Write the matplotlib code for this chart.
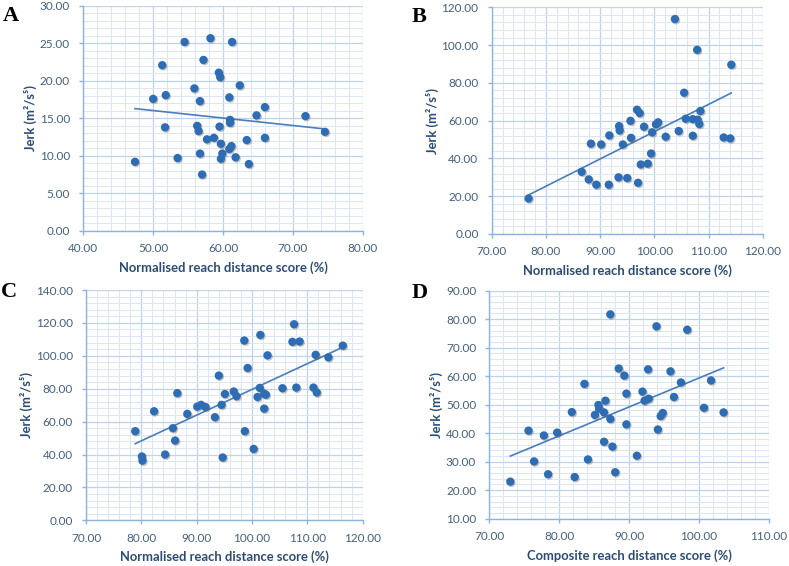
import numpy as np
import matplotlib
matplotlib.use("Agg")
import matplotlib.pyplot as plt
import matplotlib.patheffects as pe
from matplotlib.ticker import MultipleLocator, FormatStrFormatter

# Panel A: normalised reach distance vs jerk
xa = [47.4, 50.0, 51.3, 51.8, 51.7, 53.5, 54.5, 55.9, 56.3, 56.5, 56.7, 56.7, 57.0,
      57.2, 57.7, 58.2, 58.7, 59.4, 59.6, 59.5, 59.7, 59.9, 59.7, 60.9, 61.0, 61.0,
      61.3, 60.9, 61.2, 61.8, 62.4, 63.4, 63.7, 64.8, 66.0, 66.0, 71.8, 74.6]
ya = [9.2, 17.6, 22.1, 18.1, 13.8, 9.7, 25.2, 19.0, 14.0, 13.3, 17.3, 10.3, 7.5,
      22.8, 12.2, 25.7, 12.4, 21.1, 20.5, 13.9, 11.6, 10.3, 9.6, 17.8, 14.8, 14.4,
      25.2, 10.9, 11.3, 9.8, 19.4, 12.1, 8.9, 15.4, 16.5, 12.4, 15.3, 13.2]

# Panel B
xb = [76.8, 86.6, 87.9, 88.3, 89.3, 90.2, 91.6, 91.7, 93.4, 93.5, 93.6, 94.2, 95.0,
      95.7, 95.6, 96.8, 97.3, 97.0, 97.5, 98.1, 98.8, 99.4, 99.6, 100.3, 100.7, 102.1,
      103.8, 104.5, 105.5, 105.8, 107.1, 107.1, 107.9, 108.0, 108.5, 108.3, 112.8,
      114.0, 114.2]
yb = [18.8, 32.9, 28.9, 47.8, 26.1, 47.4, 26.1, 52.2, 30.0, 57.1, 54.8, 47.4, 29.6,
      50.9, 59.9, 65.8, 64.0, 27.1, 36.8, 56.8, 37.2, 42.6, 53.8, 58.0, 59.1, 51.5,
      113.8, 54.5, 74.8, 61.0, 60.8, 52.0, 97.5, 60.5, 65.1, 58.2, 51.1, 50.6, 89.6]

# Panel C
xc = [78.9, 80.1, 80.2, 82.3, 84.3, 85.7, 86.1, 86.5, 88.3, 90.1, 90.8, 91.6, 93.3,
      94.0, 94.5, 95.1, 94.7, 96.7, 97.2, 98.6, 98.7, 99.2, 100.3, 101.4, 101.0, 101.5,
      102.2, 102.5, 102.2, 102.8, 105.5, 107.3, 107.6, 108.6, 108.0, 111.1, 111.7,
      111.5, 113.8, 116.4]
yc = [54.2, 38.8, 36.3, 66.3, 40.0, 56.0, 48.5, 77.3, 64.7, 69.1, 70.2, 68.9, 62.7,
      88.0, 70.2, 76.8, 38.2, 78.3, 75.4, 109.3, 54.2, 92.6, 43.4, 80.5, 75.0, 112.7,
      77.0, 76.4, 67.9, 100.3, 80.3, 108.5, 119.2, 108.7, 80.7, 80.7, 77.7, 100.6,
      99.1, 106.2]

# Panel D: composite reach distance vs jerk
xd = [73.0, 75.6, 76.4, 77.8, 78.4, 79.7, 81.8, 82.2, 83.6, 84.1, 85.1, 85.6, 85.7,
      86.6, 86.4, 86.4, 87.3, 87.3, 87.6, 88.0, 88.5, 89.3, 89.6, 89.6, 91.1, 91.9,
      92.2, 92.8, 92.7, 93.9, 94.1, 94.5, 94.8, 95.9, 96.4, 97.4, 98.3, 100.7, 101.7,
      103.5]
yd = [23.0, 40.9, 30.1, 39.2, 25.6, 40.2, 47.4, 24.6, 57.3, 30.8, 46.4, 49.9, 48.6,
      51.4, 47.3, 37.0, 81.7, 45.0, 35.3, 26.3, 62.7, 60.2, 53.9, 43.1, 32.1, 54.6,
      51.4, 52.1, 62.4, 77.5, 41.3, 46.0, 47.1, 61.7, 52.7, 57.8, 76.3, 48.9, 58.5,
      47.3]

letters = ["A", "B", "C", "D"]
xlabels = ["Normalised reach distance score (%)"] * 3 + ["Composite reach distance score (%)"]
xlims = [(40, 80), (70, 120), (70, 120), (70, 110)]
ylims = [(0, 30), (0, 120), (0, 140), (10, 90)]
ymajor = [5, 20, 20, 10]
series = [(xa, ya), (xb, yb), (xc, yc), (xd, yd)]

boxes = [[0.1056, 0.5924, 0.3541, 0.3970],
         [0.6232, 0.5866, 0.3435, 0.4005],
         [0.1090, 0.0807, 0.3507, 0.4069],
         [0.6202, 0.0836, 0.3545, 0.4028]]
letter_pos = [(0.004, 0.963), (0.522, 0.961), (0.001, 0.475), (0.522, 0.473)]

tick_col = "#44607F"
label_col = "#2B4C74"
dot_col = "#2E6DB4"
line_col = "#4A7EBB"
axis_col = "#8DB3E2"

fig = plt.figure(figsize=(7.89, 5.66), dpi=100)

for i in range(4):
    ax = fig.add_axes(boxes[i])
    x, y = series[i]
    ax.set_xlim(*xlims[i])
    ax.set_ylim(*ylims[i])
    ax.xaxis.set_major_locator(MultipleLocator(10))
    ax.xaxis.set_minor_locator(MultipleLocator(2))
    ax.yaxis.set_major_locator(MultipleLocator(ymajor[i]))
    ax.yaxis.set_minor_locator(MultipleLocator(ymajor[i] / 5))
    ax.xaxis.set_major_formatter(FormatStrFormatter("%.2f"))
    ax.yaxis.set_major_formatter(FormatStrFormatter("%.2f"))
    ax.grid(which="major", color="#BED4EC", linewidth=0.9)
    ax.grid(which="minor", color="#DCE7F4", linewidth=0.7)
    ax.set_axisbelow(True)
    for s in ["top", "right"]:
        ax.spines[s].set_visible(False)
    for s in ["left", "bottom"]:
        ax.spines[s].set_color(axis_col)
        ax.spines[s].set_linewidth(1.0)
    ax.tick_params(which="minor", length=0)
    ax.tick_params(which="major", length=3, width=1.0, color=axis_col,
                   labelsize=8.5, labelcolor=tick_col)
    ax.tick_params(axis="x", pad=6)
    ax.tick_params(axis="y", pad=6.5)
    for t in ax.get_xticklabels() + ax.get_yticklabels():
        t.set_family(["Lato", "DejaVu Sans"])

    # linear trend line
    k, b = np.polyfit(x, y, 1)
    xs = np.array([min(x), max(x)])
    ax.plot(xs, k * xs + b, color=line_col, linewidth=1.2, zorder=2)

    sc = ax.scatter(x, y, s=36, color=dot_col, edgecolors="none", zorder=3)
    sc.set_path_effects([pe.SimplePatchShadow(offset=(0.8, -0.9), shadow_rgbFace="#555555",
                                              alpha=0.35),
                         pe.Normal()])

    ax.set_xlabel(xlabels[i], fontsize=9.4, fontweight="bold", color=label_col,
                  family=["Lato", "DejaVu Sans"], labelpad=5)
    ax.set_ylabel("Jerk (m²/s⁵)", fontsize=9.4, fontweight="bold", color=label_col,
                  family=["Lato", "DejaVu Sans"], labelpad=2)

    fig.text(letter_pos[i][0], letter_pos[i][1], letters[i], fontsize=16,
             fontweight="bold", family="Liberation Serif", va="baseline", ha="left")

fig.savefig("out.png", dpi=100)
